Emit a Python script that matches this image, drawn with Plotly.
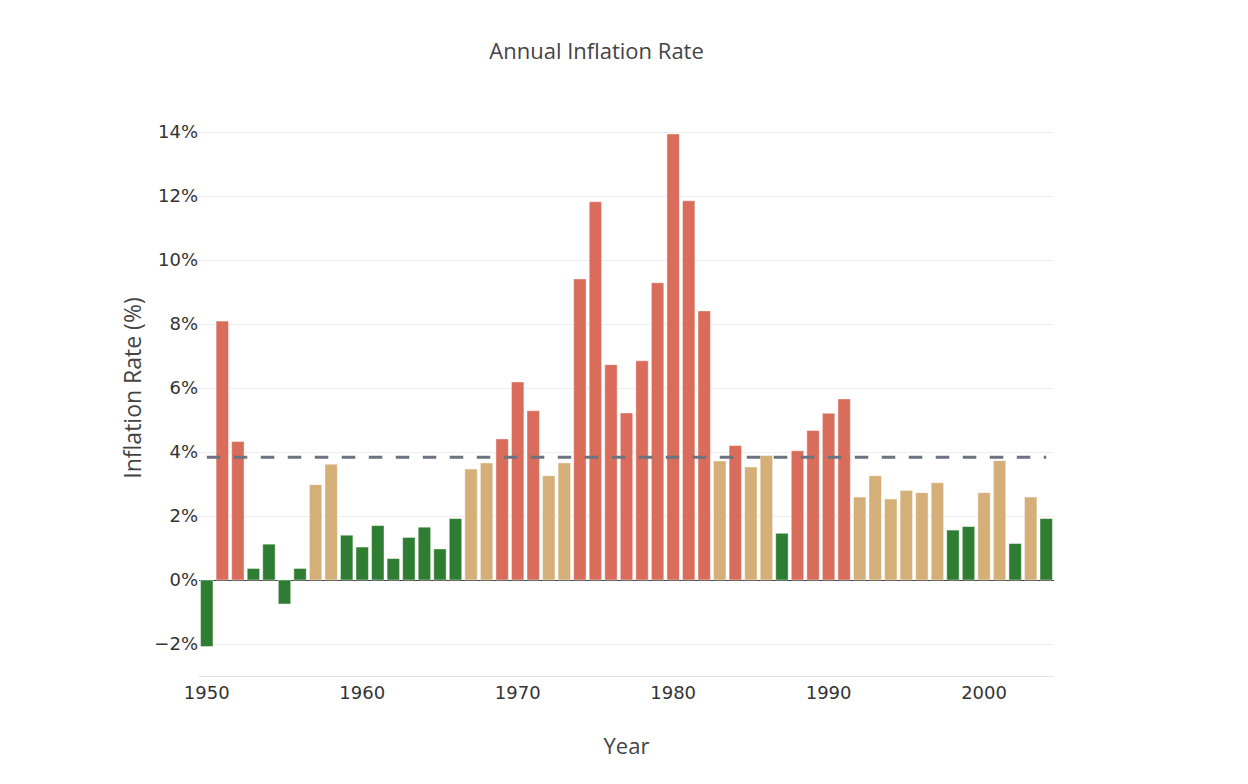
import numpy as np
import plotly.graph_objects as go

years = list(range(1950, 2005))
inflation = [
    -2.08, 8.09, 4.33, 0.36, 1.12, -0.75, 0.36, 2.98, 3.62, 1.40,
    1.03, 1.70, 0.67, 1.33, 1.65, 0.97, 1.92, 3.47, 3.66, 4.41,
    6.19, 5.29, 3.26, 3.66, 9.41, 11.82, 6.73, 5.22, 6.85, 9.29,
    13.94, 11.85, 8.41, 3.72, 4.20, 3.53, 3.89, 1.46, 4.04, 4.67,
    5.21, 5.66, 2.59, 3.26, 2.53, 2.80, 2.73, 3.04, 1.56, 1.67,
    2.73, 3.73, 1.14, 2.59, 1.92,
]
y_ticks = [-2, 0, 2, 4, 6, 8, 10, 12, 14]
y_tick_labels = ["\u22122%", "0%", "2%", "4%", "6%", "8%", "10%", "12%", "14%"]
x_ticks = [1950, 1960, 1970, 1980, 1990, 2000]

GREEN, TAN, RED = "#2E7D32", "#D4AF77", "#D96C5B"
colors = [GREEN if v < 2 else (TAN if v < 4 else RED) for v in inflation]
mean_val = float(np.mean(inflation))

fig = go.Figure()
fig.add_trace(go.Bar(
    x=years, y=inflation,
    marker=dict(color=colors, line=dict(color="rgba(255,255,255,0.45)", width=1)),
    showlegend=False,
))
fig.add_trace(go.Scatter(
    x=[years[0], years[-1]], y=[mean_val, mean_val],
    mode="lines",
    line=dict(color="#6B7280", width=3, dash="13.5px,13.5px"),
    showlegend=False,
))

fig.update_layout(
    width=1248, height=784,
    margin=dict(l=199, r=194, t=100, b=108, autoexpand=False),
    paper_bgcolor="white", plot_bgcolor="white",
    bargap=0.2,
    font=dict(family="Open Sans", color="#444"),
    title=dict(text="Annual Inflation Rate", x=0.478, xanchor="center",
               y=0.934, yanchor="middle", yref="container",
               font=dict(family="Open Sans", size=22, color="#444")),
    xaxis=dict(
        title=dict(text="Year", standoff=37,
                   font=dict(family="Open Sans", size=22, color="#444")),
        tickmode="array", tickvals=x_ticks,
        tickfont=dict(family="DejaVu Sans", size=18, color="#333"),
        range=[1949.5, 2004.5],
        showgrid=False, zeroline=False,
        showline=True, linecolor="#e2e2e2", linewidth=1,
        ticks="", automargin=False,
    ),
    yaxis=dict(
        title=dict(text="Inflation Rate (%)", standoff=6,
                   font=dict(family="Open Sans", size=23, color="#444")),
        tickmode="array", tickvals=y_ticks, ticktext=y_tick_labels,
        tickfont=dict(family="DejaVu Sans", size=18, color="#333"),
        range=[-3, 15],
        showgrid=True, gridcolor="#eeeeee", gridwidth=1,
        zeroline=True, zerolinecolor="#444", zerolinewidth=1,
        showline=False, ticks="", automargin=False,
    ),
)

fig.write_html("out.html")
